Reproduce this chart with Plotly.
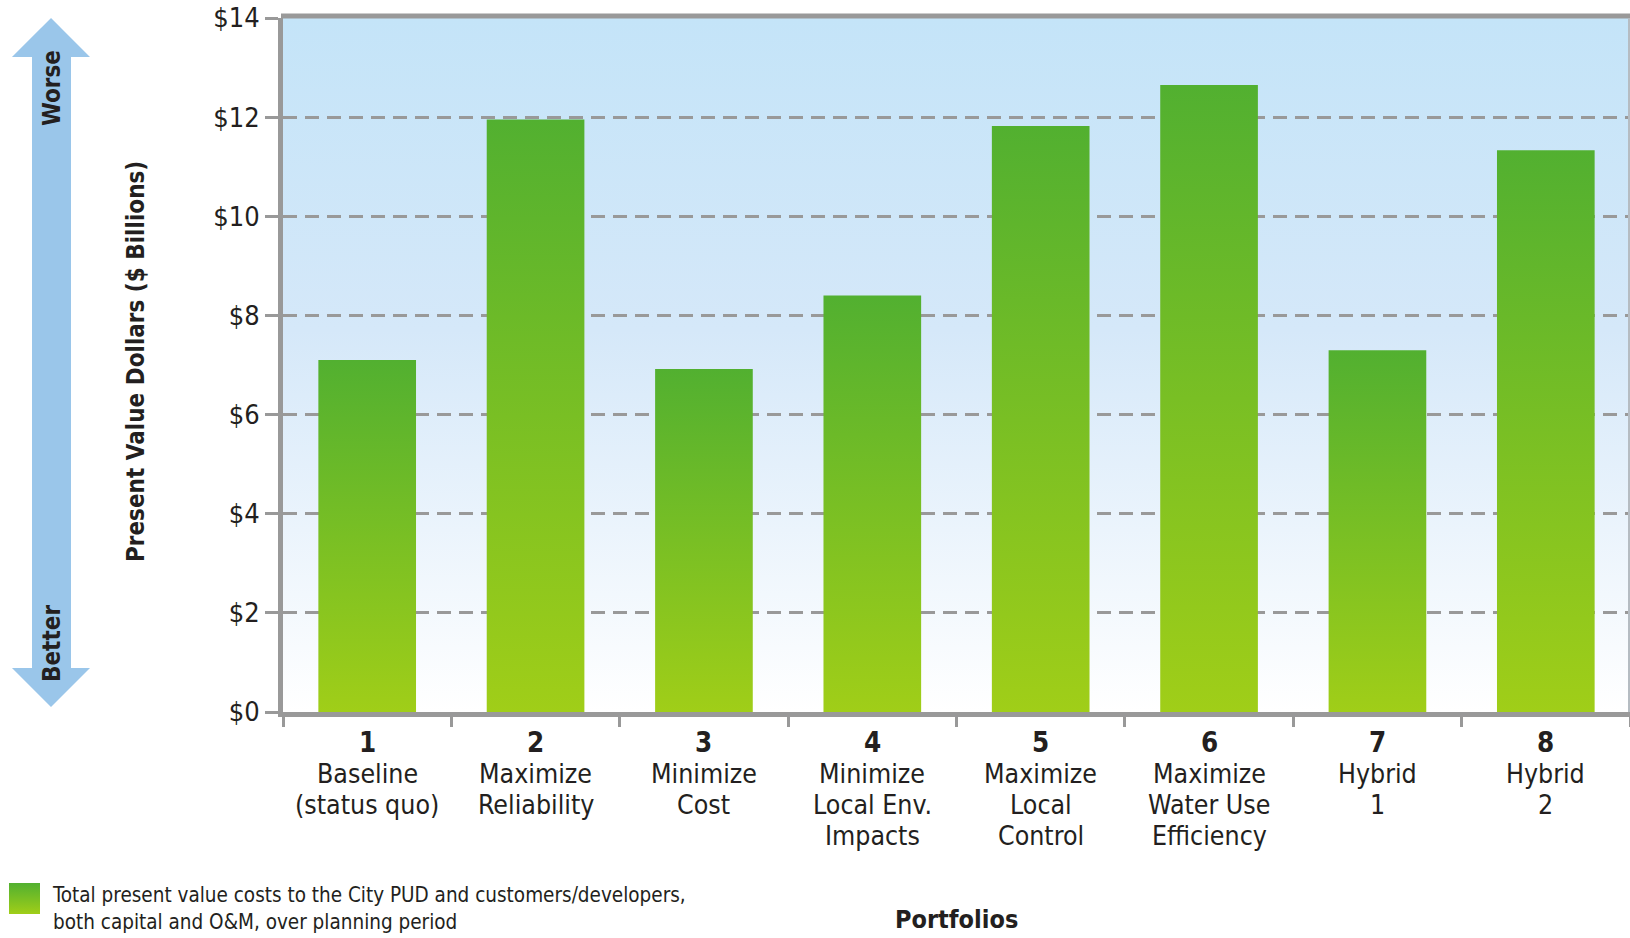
import base64
import plotly.graph_objects as go

# Portfolio cost data
numbers = ["1", "2", "3", "4", "5", "6", "7", "8"]
portfolio_names = [
    ["Baseline", "(status quo)"],
    ["Maximize", "Reliability"],
    ["Minimize", "Cost"],
    ["Minimize", "Local Env.", "Impacts"],
    ["Maximize", "Local", "Control"],
    ["Maximize", "Water Use", "Efficiency"],
    ["Hybrid", "1"],
    ["Hybrid", "2"],
]
pv_costs = [7.1, 11.95, 6.92, 8.4, 11.82, 12.65, 7.3, 11.33]
y_ticks = [0, 2, 4, 6, 8, 10, 12, 14]
y_tick_labels = ["$" + str(v) for v in y_ticks]

FONT = "Liberation Sans Narrow, DejaVu Sans Condensed, Arial Narrow, sans-serif"
INK = "#231f20"
GRAY = "#999999"
BAR_TOP = "#52b030"
BAR_BOTTOM = "#a0ce18"

W, H = 1630, 938
PL, PR, PT, PB = 283, 1630, 18, 712


def xp(px):
    return (px - PL) / (PR - PL)


def yp(py):
    return (PB - py) / (PB - PT)


def svg_gradient(stops):
    body = "".join(
        f'<stop offset="{o}" stop-color="{c}"/>' for o, c in stops
    )
    svg = (
        '<svg xmlns="http://www.w3.org/2000/svg" width="100" height="100" '
        'preserveAspectRatio="none">'
        f'<defs><linearGradient id="g" x1="0" y1="0" x2="0" y2="1">{body}'
        '</linearGradient></defs>'
        '<rect width="100" height="100" fill="url(#g)"/></svg>'
    )
    return "data:image/svg+xml;base64," + base64.b64encode(svg.encode()).decode()


fig = go.Figure()

half = 0.29
for i, v in enumerate(pv_costs):
    fig.add_trace(
        go.Scatter(
            x=[i - half, i - half, i + half, i + half, i - half],
            y=[0, v, v, 0, 0],
            mode="lines",
            line=dict(width=0),
            fill="toself",
            fillcolor=BAR_TOP,
            fillgradient=dict(
                type="vertical",
                colorscale=[[0, BAR_BOTTOM], [1, BAR_TOP]],
            ),
            name=f"{numbers[i]} {' '.join(portfolio_names[i])}",
            hoverinfo="skip",
            showlegend=False,
        )
    )

LABEL_SIZE = 26.5
annotations = []
# Category labels under each bar: bold number, then the portfolio name lines
for i, (num, lines) in enumerate(zip(numbers, portfolio_names)):
    annotations.append(
        dict(x=i, y=0, xref="x", yref="y", yanchor="middle", yshift=-30,
             text=f"<b>{num}</b>", showarrow=False,
             font=dict(family=FONT, size=LABEL_SIZE + 1, color=INK))
    )
    for k, line in enumerate(lines):
        annotations.append(
            dict(x=i, y=0, xref="x", yref="y", yanchor="middle",
                 yshift=-61 - 31 * k, text=line, showarrow=False,
                 font=dict(family=FONT, size=LABEL_SIZE, color=INK))
        )


def side_text(px, py, text, size, angle=0, **kw):
    return dict(x=xp(px), y=yp(py), xref="paper", yref="paper",
                xanchor="center", yanchor="middle", textangle=angle,
                text=text, showarrow=False,
                font=dict(family=FONT, size=size, color=INK), **kw)


annotations += [
    side_text(136, 362, "<b>Present Value Dollars ($ Billions)</b>", 24, -90),
    side_text(52, 88, "<b>Worse</b>", 24, -90),
    side_text(52, 644, "<b>Better</b>", 24, -90),
    side_text(957, 919, "<b>Portfolios</b>", 25),
    dict(x=xp(50), y=yp(881), xref="paper", yref="paper",
         xanchor="left", yanchor="top", align="left",
         text="Total present value costs to the City PUD and customers/developers,"
              "<br>both capital and O&M, over planning period",
         showarrow=False, font=dict(family=FONT, size=20.5, color=INK)),
]

# Double-headed arrow on the far left
arrow_pts = [(51, 18), (90, 57), (71, 57), (71, 668), (90, 668), (51, 707),
             (12, 668), (32, 668), (32, 57), (12, 57)]
arrow_path = "M " + " L ".join(f"{xp(a):.5f},{yp(b):.5f}" for a, b in arrow_pts) + " Z"

shapes = [
    dict(type="path", path=arrow_path, xref="paper", yref="paper",
         fillcolor="#9ac6ea", line=dict(width=0), layer="below"),
    dict(type="line", xref="paper", yref="paper", x0=xp(281), x1=1, y0=yp(16), y1=yp(16),
         line=dict(color=GRAY, width=5)),
    dict(type="line", xref="paper", yref="paper", x0=xp(1629), x1=xp(1629), y0=0, y1=1,
         line=dict(color="#b5bcc2", width=2)),
]

images = [
    dict(source=svg_gradient([(0, "#c4e4f8"), (0.45, "#d5e8f9"), (1, "#ffffff")]),
         xref="paper", yref="paper", x=0, y=1, sizex=1, sizey=1,
         sizing="stretch", xanchor="left", yanchor="top", layer="below"),
    dict(source=svg_gradient([(0, BAR_TOP), (1, BAR_BOTTOM)]),
         xref="paper", yref="paper", x=xp(9), y=yp(883), sizex=xp(40) - xp(9),
         sizey=yp(883) - yp(914), sizing="stretch", xanchor="left",
         yanchor="top", layer="above"),
]

fig.update_layout(
    width=W, height=H,
    margin=dict(l=PL, r=W - PR, t=PT, b=H - PB),
    paper_bgcolor="white",
    plot_bgcolor="rgba(0,0,0,0)",
    font=dict(family=FONT, color=INK),
    showlegend=False,
    annotations=annotations,
    shapes=shapes,
    images=images,
    xaxis=dict(
        range=[-0.5, 7.5], showgrid=False, zeroline=False,
        tickmode="array", tickvals=[k - 0.5 for k in range(len(numbers) + 1)],
        showticklabels=False, ticks="outside", ticklen=10, tickwidth=3,
        tickcolor=GRAY, showline=True, linewidth=5, linecolor=GRAY,
    ),
    yaxis=dict(
        range=[0, 14], tickmode="array", tickvals=y_ticks, ticktext=y_tick_labels,
        ticks="outside", ticklen=13, tickwidth=3, tickcolor=GRAY,
        showline=True, linewidth=5, linecolor=GRAY, zeroline=False,
        showgrid=True, gridcolor=GRAY, gridwidth=3, griddash="14px,8px",
        tickfont=dict(family=FONT, size=27, color=INK),
        ticklabelstandoff=0,
    ),
)

fig.write_html("out.html")
